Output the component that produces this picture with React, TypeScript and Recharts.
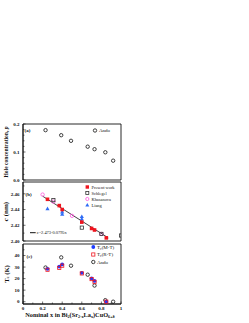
import { ScatterChart, Scatter, XAxis, YAxis, Legend, ReferenceArea } from 'recharts';

// x axis (shared)
const xTicks = [0, 0.1, 0.2, 0.3, 0.4, 0.5, 0.6, 0.7, 0.8, 0.9, 1];
const xMajors = [0, 0.2, 0.4, 0.6, 0.8, 1];
const xMajorLabels = ['0', '0.2', '0.4', '0.6', '0.8', '1'];

// (a) hole concentration, Ando
const andoPX = [0.23, 0.39, 0.49, 0.66, 0.73, 0.84, 0.92];
const andoP = [0.178, 0.16, 0.14, 0.119, 0.11, 0.099, 0.069];
const pTicks = [0, 0.02, 0.04, 0.06, 0.08, 0.1, 0.12, 0.14, 0.16, 0.18, 0.2];
const pMajors = [0, 0.1, 0.2];
const pMajorLabels = ['0.0', '0.1', '0.2'];

// (b) c-axis length
const presentX = [0.25, 0.37, 0.4, 0.6, 0.7, 0.73, 0.85];
const presentC = [2.453, 2.445, 2.44, 2.424, 2.416, 2.414, 2.404];
const schlegelX = [0.31, 0.6, 0.8, 1.0];
const schlegelC = [2.452, 2.417, 2.409, 2.407];
const khasanovaX = [0.2, 0.31, 0.5, 0.8];
const khasanovaC = [2.459, 2.45, 2.432, 2.409];
const liangX = [0.25, 0.4, 0.4, 0.6, 0.6];
const liangC = [2.441, 2.437, 2.434, 2.431, 2.428];
// c = 2.473 - 0.0795x, end points
const fitX = [0.2, 0.87];
const fitC = [2.457, 2.404];
const cTicks = [2.4, 2.41, 2.42, 2.43, 2.44, 2.45, 2.46, 2.47];
const cMajors = [2.4, 2.42, 2.44, 2.46];
const cMajorLabels = ['2.40', '2.42', '2.44', '2.46'];

// (c) Tc
const tcX = [0.25, 0.37, 0.4, 0.6, 0.7, 0.73, 0.85];
const tcMT = [28.5, 30.4, 32.3, 25, 20.2, 18, 0];
const tcRT = [27.7, 29.3, 31.2, 24.5, 19.6, 17.2, 0];
const andoTX = [0.23, 0.39, 0.49, 0.66, 0.73, 0.84, 0.92];
const andoTc = [29.6, 38.4, 31.2, 23.4, 14, 1.3, 0];
const tTicks = [0, 5, 10, 15, 20, 25, 30, 35, 40, 45];
const tMajors = [0, 10, 20, 30, 40];
const tMajorLabels = ['0', '10', '20', '30', '40'];

const zip = (xs: number[], ys: number[]) => xs.map((x, i) => ({ x, y: ys[i] }));

const SERIF = '"Liberation Serif", "DejaVu Serif", serif';
const INK = '#111';
const RED = '#f0141e';
const BLUE = '#1e3cff';
const PINK = '#ff55dd';
const LBLUE = '#2f6cf5';
const DARK = '#333';

const margin = { top: 10, right: 128, bottom: 6, left: 0 };

function findMajor(v: number, majors: number[]) {
  return majors.findIndex((m) => Math.abs(m - v) < 1e-6);
}

function YTick(props: any) {
  const { x, y, payload, majors, labels } = props;
  const i = findMajor(payload.value, majors);
  return (
    <g>
      <line x1={x} y1={y} x2={x + (i >= 0 ? 2.5 : 1.5)} y2={y} stroke={INK} strokeWidth={0.6} />
      {i >= 0 && (
        <text x={x - 3.5} y={y} dy={1.8} textAnchor="end" fontSize={5} fontWeight="bold" fontFamily={SERIF} fill={INK}>
          {labels[i]}
        </text>
      )}
    </g>
  );
}

function XTick(props: any) {
  const { x, y, payload, showLabels } = props;
  const i = findMajor(payload.value, xMajors);
  return (
    <g>
      <line x1={x} y1={y} x2={x} y2={y - (i >= 0 ? 2.5 : 1.5)} stroke={INK} strokeWidth={0.6} />
      {showLabels && i >= 0 && (
        <text x={x} y={y + 6} textAnchor="middle" fontSize={5} fontWeight="bold" fontFamily={SERIF} fill={INK}>
          {xMajorLabels[i]}
        </text>
      )}
    </g>
  );
}

const openCircle = (color: string) => (p: any) => (
  <circle cx={p.cx} cy={p.cy} r={1.7} fill="none" stroke={color} strokeWidth={0.8} />
);
const filledCircle = (color: string) => (p: any) => <circle cx={p.cx} cy={p.cy} r={1.9} fill={color} />;
const filledSquare = (color: string) => (p: any) => (
  <rect x={p.cx - 1.8} y={p.cy - 1.8} width={3.6} height={3.6} fill={color} />
);
const openSquare = (color: string) => (p: any) => (
  <rect x={p.cx - 1.6} y={p.cy - 1.6} width={3.2} height={3.2} fill="none" stroke={color} strokeWidth={0.8} />
);
const triangle = (color: string) => (p: any) => (
  <polygon points={`${p.cx},${p.cy - 2.2} ${p.cx - 2.1},${p.cy + 1.5} ${p.cx + 2.1},${p.cy + 1.5}`} fill={color} />
);
const noShape = () => <g />;

// plot box drawn through the scales
function box(yDomain: number[]) {
  return (
    <ReferenceArea
      x1={0}
      x2={1}
      y1={yDomain[0]}
      y2={yDomain[1]}
      ifOverflow="visible"
      fill="none"
      fillOpacity={0}
      stroke={INK}
      strokeWidth={0.9}
    />
  );
}

function bottomAxis(showLabels: boolean, height: number, label?: any) {
  return (
    <XAxis
      dataKey="x"
      type="number"
      domain={[0, 1]}
      ticks={xTicks}
      allowDataOverflow
      height={height}
      tickSize={0}
      tickMargin={0}
      tickLine={false}
      interval={0}
      axisLine={{ stroke: INK, strokeWidth: 0.9 }}
      tick={(p: any) => <XTick {...p} showLabels={showLabels} />}
      label={label}
    />
  );
}

function leftAxis(domain: number[], ticks: number[], majors: number[], labels: string[], title: any) {
  return (
    <YAxis
      dataKey="y"
      type="number"
      domain={domain}
      ticks={ticks}
      allowDataOverflow
      width={23}
      tickSize={0}
      tickMargin={0}
      tickLine={false}
      interval={0}
      axisLine={{ stroke: INK, strokeWidth: 0.9 }}
      tick={(p: any) => <YTick {...p} majors={majors} labels={labels} />}
      label={{ content: title }}
    />
  );
}

const yTitle = (children: any, size: number) => (props: any) => {
  const vb = props.viewBox || {};
  const cx = 6;
  const cy = vb.y + vb.height / 2;
  return (
    <text x={cx} y={cy} transform={`rotate(-90 ${cx} ${cy})`} textAnchor="middle" dominantBaseline="central" fontSize={size} fontWeight="bold" fontFamily={SERIF} fill={INK}>
      {children}
    </text>
  );
};

const xTitle = (props: any) => {
  const vb = props.viewBox || {};
  const cx = vb.x + vb.width / 2 - 2;
  const y = vb.y + 13;
  return (
    <text x={cx} y={y} textAnchor="middle" fontSize={6.3} fontWeight="bold" fontFamily={SERIF} fill={INK}>
      <tspan>Nominal x in Bi</tspan>
      <tspan dy={1.4} fontSize={4.2}>2</tspan>
      <tspan dy={-1.4}>(Sr</tspan>
      <tspan dy={1.4} fontSize={4.2}>2-x</tspan>
      <tspan dy={-1.4}>La</tspan>
      <tspan dy={1.4} fontSize={4.2}>x</tspan>
      <tspan dy={-1.4}>)CuO</tspan>
      <tspan dy={1.4} fontSize={4.2}>6+δ</tspan>
    </text>
  );
};

const txt = { fontFamily: SERIF, fill: INK };

function Overlay({ w, h, children }: any) {
  return (
    <svg width={w} height={h} style={{ position: 'absolute', left: 0, top: 0, overflow: 'visible' }}>
      {children}
    </svg>
  );
}

function PanelA() {
  const h = 72;
  const dom = [0, 0.2];
  return (
    <div style={{ position: 'absolute', left: 0, top: 114 }}>
      <ScatterChart width={249} height={h} margin={margin}>
        {bottomAxis(false, 0)}
        {leftAxis(dom, pTicks, pMajors, pMajorLabels, yTitle(<>Hole concentration, <tspan fontStyle="italic">p</tspan></>, 5.6))}
        {box(dom)}
        <Scatter data={zip(andoPX, andoP)} shape={openCircle(INK)} isAnimationActive={false} />
        <Legend
          layout="vertical"
          align="center"
          verticalAlign="middle"
          wrapperStyle={{ left: 0, top: 0, width: 249, height: h, pointerEvents: 'none' }}
          content={() => (
            <Overlay w={249} h={h}>
              <text x={24.5} y={18} fontSize={5} fontWeight="bold" {...txt}>(a)</text>
              <circle cx={95} cy={16.5} r={1.7} fill="none" stroke={INK} strokeWidth={0.8} />
              <text x={99} y={18.2} fontSize={5} {...txt}>Ando</text>
            </Overlay>
          )}
        />
      </ScatterChart>
    </div>
  );
}

function PanelB() {
  const h = 75;
  const dom = [2.4, 2.475];
  const rows = [
    { label: 'Present work', mark: <rect x={85.6} y={13.3} width={3.4} height={3.4} fill={RED} /> },
    { label: 'Schlegel', mark: <rect x={85.8} y={19.5} width={3} height={3} fill="none" stroke={DARK} strokeWidth={0.8} /> },
    { label: 'Khasanova', mark: <circle cx={87.3} cy={27} r={1.6} fill="none" stroke={PINK} strokeWidth={0.8} /> },
    { label: 'Liang', mark: <polygon points="87.3,30.9 85.3,34.4 89.3,34.4" fill={LBLUE} /> },
  ];
  return (
    <div style={{ position: 'absolute', left: 0, top: 172 }}>
      <ScatterChart width={249} height={h} margin={margin}>
        {bottomAxis(false, 0)}
        {leftAxis(dom, cTicks, cMajors, cMajorLabels, yTitle(<><tspan fontStyle="italic">c</tspan> (nm)</>, 7))}
        {box(dom)}
        <Scatter data={zip(fitX, fitC)} line={{ stroke: INK, strokeWidth: 0.8 }} shape={noShape} isAnimationActive={false} />
        <Scatter data={zip(liangX, liangC)} shape={triangle(LBLUE)} isAnimationActive={false} />
        <Scatter data={zip(khasanovaX, khasanovaC)} shape={openCircle(PINK)} isAnimationActive={false} />
        <Scatter data={zip(schlegelX, schlegelC)} shape={openSquare(DARK)} isAnimationActive={false} />
        <Scatter data={zip(presentX, presentC)} shape={filledSquare(RED)} isAnimationActive={false} />
        <Legend
          layout="vertical"
          align="center"
          verticalAlign="middle"
          wrapperStyle={{ left: 0, top: 0, width: 249, height: h, pointerEvents: 'none' }}
          content={() => (
            <Overlay w={249} h={h}>
              <text x={25.5} y={23.8} fontSize={5} fontWeight="bold" {...txt}>(b)</text>
              {rows.map((r, i) => (
                <g key={r.label}>
                  {r.mark}
                  <text x={91.5} y={16.6 + i * 6} fontSize={4.4} {...txt}>{r.label}</text>
                </g>
              ))}
              <line x1={30} y1={60.7} x2={35.7} y2={60.7} stroke={INK} strokeWidth={1} />
              <text x={36.7} y={62.3} fontSize={4.4} {...txt}>c=2.473-0.0795x</text>
            </Overlay>
          )}
        />
      </ScatterChart>
    </div>
  );
}

function PanelC() {
  const h = 90;
  const dom = [-2, 50];
  return (
    <div style={{ position: 'absolute', left: 0, top: 234 }}>
      <ScatterChart width={249} height={h} margin={{ ...margin, bottom: 0 }}>
        {bottomAxis(true, 20, { content: xTitle })}
        {leftAxis(dom, tTicks, tMajors, tMajorLabels, yTitle(<>T<tspan dy={1.3} fontSize={4.6}>c</tspan><tspan dy={-1.3}> (K)</tspan></>, 6.6))}
        {box(dom)}
        <Scatter data={zip(andoTX, andoTc)} shape={openCircle(INK)} isAnimationActive={false} />
        <Scatter data={zip(tcX, tcMT)} shape={filledCircle(BLUE)} isAnimationActive={false} />
        <Scatter data={zip(tcX, tcRT)} shape={openSquare(RED)} isAnimationActive={false} />
        <Legend
          layout="vertical"
          align="center"
          verticalAlign="middle"
          wrapperStyle={{ left: 0, top: 0, width: 249, height: h, pointerEvents: 'none' }}
          content={() => (
            <Overlay w={249} h={h}>
              <text x={26.5} y={23.8} fontSize={5} fontWeight="bold" {...txt}>(c)</text>
              <circle cx={93.3} cy={13} r={1.9} fill={BLUE} />
              <text x={97} y={14.8} fontSize={5} {...txt}>T<tspan dy={1} fontSize={3.6}>c</tspan><tspan dy={-1}>(M-T)</tspan></text>
              <rect x={91.7} y={18.9} width={3.2} height={3.2} fill="none" stroke={RED} strokeWidth={0.8} />
              <text x={97} y={22.3} fontSize={5} {...txt}>T<tspan dy={1} fontSize={3.6}>c</tspan><tspan dy={-1}>(R-T)</tspan></text>
              <circle cx={93.3} cy={28} r={1.7} fill="none" stroke={INK} strokeWidth={0.8} />
              <text x={97} y={29.8} fontSize={5} {...txt}>Ando</text>
            </Overlay>
          )}
        />
      </ScatterChart>
    </div>
  );
}

export default function App() {
  return (
    <div style={{ position: 'absolute', left: 0, top: 0, width: 249, height: 323, background: '#fff', overflow: 'hidden' }}>
      <PanelA />
      <PanelB />
      <PanelC />
    </div>
  );
}
